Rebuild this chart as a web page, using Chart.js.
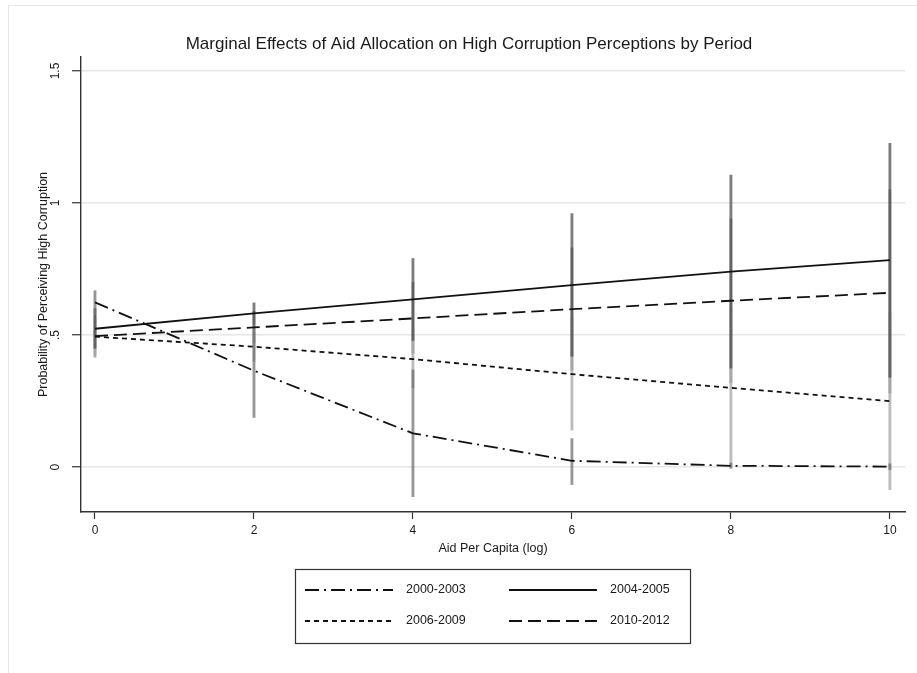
<!DOCTYPE html>
<html>
<head>
<meta charset="utf-8">
<title>Marginal Effects of Aid Allocation</title>
<script src="https://cdn.jsdelivr.net/npm/chart.js@4.4.1/dist/chart.umd.min.js"></script>
<style>
  html, body { margin: 0; padding: 0; background: #fff; }
  #wrap { position: relative; width: 917px; height: 673px; }
  #wrap::before { content: ''; position: absolute; left: 8px; top: 5px; right: 0; bottom: 0;
    border-left: 1px solid #e6e6e6; border-top: 1px solid #e6e6e6; pointer-events: none; }
  canvas { display: block; }
</style>
</head>
<body>
<div id="wrap"><canvas id="chart" width="917" height="673"></canvas></div>
<script>
// aid per capita (log) where the margins were evaluated
const aidLevels = [0, 2, 4, 6, 8, 10];
const periods = ['2000-2003', '2004-2005', '2006-2009', '2010-2012'];

// predicted probabilities
const fit2000 = [0.624, 0.365, 0.128, 0.024, 0.005, 0.002];
const fit2004 = [0.524, 0.582, 0.635, 0.689, 0.740, 0.784];
const fit2006 = [0.494, 0.456, 0.409, 0.352, 0.300, 0.250];
const fit2010 = [0.496, 0.529, 0.563, 0.598, 0.630, 0.660];

// 95% confidence intervals
const lo2000 = [0.580, 0.188, -0.112, -0.066, -0.005, -0.010];
const hi2000 = [0.668, 0.542, 0.368, 0.108, 0.015, 0.012];
const lo2004 = [0.450, 0.542, 0.480, 0.420, 0.375, 0.340];
const hi2004 = [0.600, 0.622, 0.790, 0.960, 1.106, 1.226];
const lo2006 = [0.430, 0.400, 0.300, 0.140, 0.000, -0.085];
const hi2006 = [0.560, 0.510, 0.520, 0.565, 0.600, 0.585];
const lo2010 = [0.416, 0.470, 0.430, 0.367, 0.320, 0.280];
const hi2010 = [0.576, 0.590, 0.700, 0.830, 0.940, 1.050];

const xTicks = [0, 2, 4, 6, 8, 10];
const yTicks = [0, 0.5, 1, 1.5];
const yTickLabels = ['0', '.5', '1', '1.5'];

const TITLE = 'Marginal Effects of Aid Allocation on High Corruption Perceptions by Period';
const FONT = '"Liberation Sans", Arial, Helvetica, sans-serif';

const points = ys => aidLevels.map((x, i) => ({ x, y: ys[i] }));
const ranges = (lo, hi) => aidLevels.map((x, i) => ({ x, y: [lo[i], hi[i]] }));

const lineStyles = [
  { fit: fit2000, dash: [14, 5, 2, 5] },
  { fit: fit2004, dash: [] },
  { fit: fit2006, dash: [5, 4] },
  { fit: fit2010, dash: [13, 6] }
];
const ciSets = [
  { lo: lo2000, hi: hi2000, color: 'rgba(105,105,105,0.7)' },
  { lo: lo2004, hi: hi2004, color: 'rgba(70,70,70,0.7)' },
  { lo: lo2006, hi: hi2006, color: 'rgba(165,165,165,0.75)' },
  { lo: lo2010, hi: hi2010, color: 'rgba(95,95,95,0.55)' }
];

const ciDatasets = ciSets.map((c, i) => ({
  type: 'bar',
  label: periods[i] + ' CI',
  data: ranges(c.lo, c.hi),
  backgroundColor: c.color,
  borderWidth: 0,
  barThickness: 2.2,
  grouped: false,
  order: 2
}));

const lineDatasets = lineStyles.map((s, i) => ({
  type: 'line',
  label: periods[i],
  data: points(s.fit),
  borderColor: '#111',
  borderWidth: 1.8,
  borderDash: s.dash,
  pointRadius: 0,
  tension: 0,
  fill: false,
  order: 1
}));

// title, rotated y labels and the boxed two-column legend
const decorations = {
  id: 'decorations',
  afterDraw(chart) {
    const { ctx, scales: { y } } = chart;
    ctx.save();
    ctx.fillStyle = '#1a1a1a';
    ctx.textAlign = 'center';
    ctx.textBaseline = 'middle';
    ctx.font = '17px ' + FONT;
    ctx.fillText(TITLE, 469, 44);

    ctx.font = '12px ' + FONT;
    yTicks.forEach((v, i) => {
      ctx.save();
      ctx.translate(56, y.getPixelForValue(v));
      ctx.rotate(-Math.PI / 2);
      ctx.fillText(yTickLabels[i], 0, 0);
      ctx.restore();
    });

    ctx.strokeStyle = '#333';
    ctx.lineWidth = 1.2;
    ctx.strokeRect(295.5, 569.5, 395, 74);

    const slots = [[305, 590], [509, 590], [305, 621], [509, 621]];
    ctx.font = '12.5px ' + FONT;
    ctx.textAlign = 'left';
    lineDatasets.forEach((d, i) => {
      const [lx, ly] = slots[i];
      ctx.beginPath();
      ctx.setLineDash(d.borderDash);
      ctx.lineWidth = d.borderWidth;
      ctx.strokeStyle = d.borderColor;
      ctx.moveTo(lx, ly);
      ctx.lineTo(lx + 88, ly);
      ctx.stroke();
      ctx.setLineDash([]);
      ctx.fillText(d.label, lx + 101, ly);
    });
    ctx.restore();
  }
};

new Chart(document.getElementById('chart'), {
  data: { datasets: [...lineDatasets, ...ciDatasets] },
  options: {
    responsive: false,
    animation: false,
    layout: { padding: { left: 0, right: 12, top: 57, bottom: 116 } },
    plugins: { legend: { display: false }, tooltip: { enabled: false }, title: { display: false } },
    scales: {
      x: {
        type: 'linear',
        min: -0.176,
        max: 10.19,
        offset: false,
        afterBuildTicks: s => { s.ticks = xTicks.map(v => ({ value: v })); },
        afterFit: s => { s.height = 45; },
        grid: { offset: false, drawOnChartArea: false, drawTicks: true, tickLength: 7, tickColor: '#333', tickWidth: 1.2 },
        border: { display: true, color: '#333', width: 1.4 },
        ticks: { color: '#1a1a1a', font: { family: FONT, size: 12 }, padding: 4, maxRotation: 0 },
        title: { display: true, text: 'Aid Per Capita (log)', color: '#1a1a1a',
          font: { family: FONT, size: 12.5 }, padding: { top: 0, bottom: 1 } }
      },
      y: {
        type: 'linear',
        min: -0.17,
        max: 1.553,
        afterBuildTicks: s => { s.ticks = yTicks.map(v => ({ value: v })); },
        afterFit: s => { s.width = 81; },
        grid: { color: '#e6e6e6', lineWidth: 1.5, drawTicks: true, tickLength: 9, tickColor: '#333', tickWidth: 1.2 },
        border: { display: true, color: '#333', width: 1.4 },
        ticks: { display: false },
        title: { display: true, text: 'Probability of Perceiving High Corruption', color: '#1a1a1a',
          font: { family: FONT, size: 12.5 }, padding: { top: 36, bottom: 0 } }
      }
    }
  },
  plugins: [decorations]
});
</script>
</body>
</html>
